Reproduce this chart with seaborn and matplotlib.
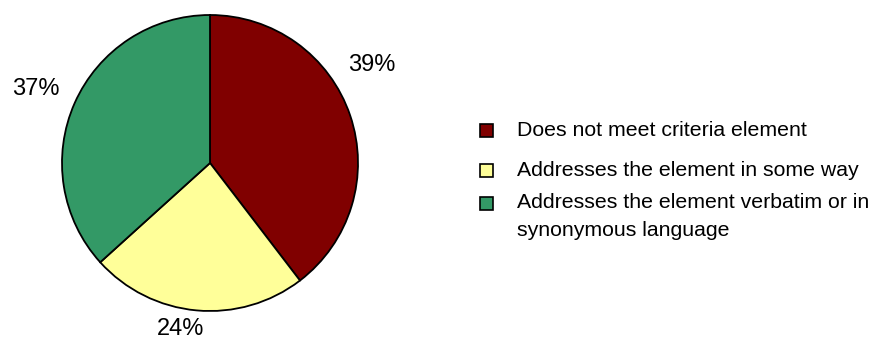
import matplotlib
matplotlib.use("Agg")
import matplotlib.pyplot as plt
from matplotlib.patches import Rectangle
import seaborn as sns

categories = ["Does not meet criteria element",
              "Addresses the element in some way",
              "Addresses the element verbatim or in\nsynonymous language"]
values = [39.6, 23.7, 36.7]
pct_labels = ["39%", "24%", "37%"]
colors = ["#800000", "#FFFF99", "#339966"]

sns.set_theme(style="white")
plt.rcParams['font.family'] = ['Liberation Sans', 'DejaVu Sans']

W, H = 872, 341
fig = plt.figure(figsize=(W / 100, H / 100), dpi=100)
fig.patch.set_facecolor("white")

cx, cy, r = 210, 163, 148
ax = fig.add_axes([(cx - r) / W, (H - cy - r) / H, 2 * r / W, 2 * r / H])
wedges, _ = ax.pie(values, colors=colors, startangle=90, counterclock=False,
                   wedgeprops=dict(edgecolor="black", linewidth=1.3))
ax.set_xlim(-1, 1)
ax.set_ylim(-1, 1)
ax.set_aspect("equal")
ax.axis("off")

# percentage label positions (data coords relative to pie)
label_pos = [(1.09, 0.665), (-0.2, -1.12), (-1.18, 0.5)]
for lab, (x, y) in zip(pct_labels, label_pos):
    ax.text(x, y, lab, ha="center", va="center", fontsize=17, color="black",
            clip_on=False)

# legend
rows = [130, 170, 203]
for cat, col, yc in zip(categories, colors, rows):
    s = 13
    fig.patches.append(Rectangle(((486 - s / 2) / W, (H - yc - s / 2) / H), s / W, s / H,
                                 transform=fig.transFigure, facecolor=col,
                                 edgecolor="black", linewidth=1.2))
    lines = cat.split("\n")
    for i, ln in enumerate(lines):
        fig.text(517 / W, (H - yc - i * 27) / H, ln, ha="left", va="center",
                 fontsize=15.3, color="black")

fig.savefig("out.png", dpi=100, facecolor="white")
